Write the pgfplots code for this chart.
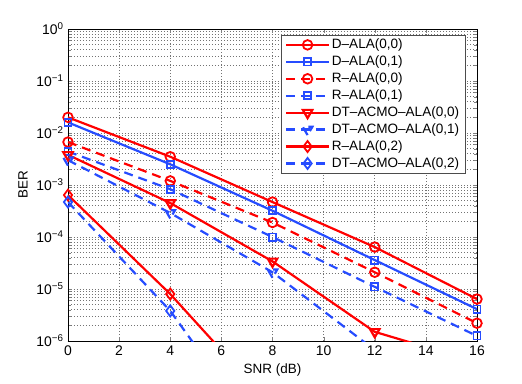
\documentclass[border=0pt]{standalone}
\usepackage{fontspec}
\setmainfont{Liberation Sans}
\usepackage{pgfplots}
\pgfplotsset{compat=1.18}
\definecolor{mred}{rgb}{1,0,0}
\definecolor{mblue}{rgb}{0.15,0.3,1}
\begin{document}
\fontsize{13}{15}\selectfont
\begin{tikzpicture}
\begin{axis}[
scale only axis,width=409bp,height=312bp,
ymode=log,xmin=0,xmax=16,ymin=1e-6,ymax=1,
xtick={0,2,...,16},
ytick={1e-6,1e-5,1e-4,1e-3,1e-2,1e-1,1},
yticklabels={10\textsuperscript{−6},10\textsuperscript{−5},10\textsuperscript{−4},10\textsuperscript{−3},10\textsuperscript{−2},10\textsuperscript{−1},10\textsuperscript{0}},
/pgf/number format/assume math mode=true,
xlabel={SNR (dB)},ylabel={BER},
tick label style={font=\fontsize{14}{16}\selectfont},
label style={font=\fontsize{13.5}{16}\selectfont},
tick align=inside,
grid=both,
major grid style={black!55,dash pattern=on 0.6bp off 2.4bp,line width=0.6pt},
minor grid style={black!55,dash pattern=on 0.6bp off 2.4bp,line width=0.6pt},
minor x tick num=0,
every axis plot/.append style={line width=2.2pt,mark options={solid,line width=1.8pt}},
legend cell align=left,
legend style={at={(0.972,0.982)},anchor=north east,font=\fontsize{13.6}{15}\selectfont,
  row sep=1.2pt,inner xsep=4pt,inner ysep=2pt,draw=black!70,line width=0.8pt},
legend image code/.code={\draw[mark repeat=2,mark phase=2] plot coordinates {(0cm,0cm)(0.75cm,0cm)(1.5cm,0cm)};},
]
\addplot[mred,mark=o,mark size=4.8bp] coordinates {(0,2.0e-2)(4,3.5e-3)(8,4.7e-4)(12,6.4e-5)(16,6.4e-6)};
\addplot[mblue,mark=square,mark size=3.6bp] coordinates {(0,1.6e-2)(4,2.5e-3)(8,3.2e-4)(12,3.6e-5)(16,4.1e-6)};
\addplot[mred,mark=o,mark size=4.8bp,dash pattern=on 9bp off 6bp] coordinates {(0,6.7e-3)(4,1.2e-3)(8,1.9e-4)(12,2.1e-5)(16,2.2e-6)};
\addplot[mblue,mark=square,mark size=3.6bp,dash pattern=on 9bp off 6bp] coordinates {(0,4.4e-3)(4,8.3e-4)(8,1.0e-4)(12,1.1e-5)(16,1.25e-6)};
\addplot[mred,mark=triangle,mark size=5.5bp,mark options={rotate=180}] coordinates {(0,3.8e-3)(4,4.5e-4)(8,3.4e-5)(12,1.5e-6)(16,3.9e-7)};
\addplot[mblue,mark=triangle,mark size=5.5bp,mark options={rotate=180},dash pattern=on 9bp off 6bp] coordinates {(0,3.0e-3)(4,2.9e-4)(8,2.1e-5)(12,6.7e-7)(16,2.0e-8)};
\addplot[mred,mark=diamond,mark size=5.5bp] coordinates {(0,6.4e-4)(4,8.0e-6)(8,5.5e-8)};
\addplot[mblue,mark=diamond,mark size=5.5bp,dash pattern=on 9bp off 6bp] coordinates {(0,4.7e-4)(4,3.8e-6)(8,7e-9)};
\legend{{D--ALA(0,0)},{D--ALA(0,1)},{R--ALA(0,0)},{R--ALA(0,1)},{DT--ACMO--ALA(0,0)},{DT--ACMO--ALA(0,1)},{R--ALA(0,2)},{DT--ACMO--ALA(0,2)}}
\end{axis}
\path (-68bp,-43bp) rectangle (454bp,341bp);
\end{tikzpicture}
\end{document}
